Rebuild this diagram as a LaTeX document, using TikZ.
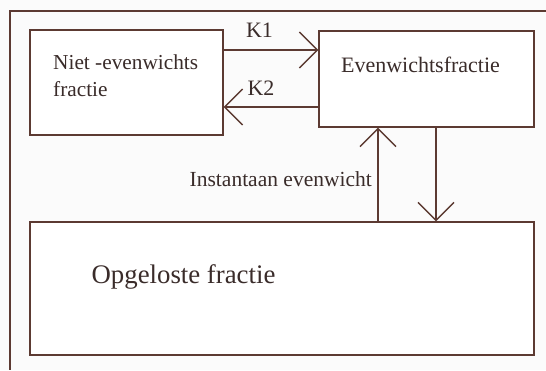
\documentclass[tikz,border=0pt]{standalone}
\usepackage{fontspec}
\setmainfont{Liberation Serif}
\usetikzlibrary{arrows.meta}
\definecolor{ink}{RGB}{92,58,50}
\definecolor{txt}{RGB}{58,44,42}
\tikzset{
  x=1pt, y=-1pt,
  frameline/.style={draw=ink, line width=1.4pt},
  fbox/.style={draw=ink, line width=1.4pt, inner sep=0pt, rectangle, fill=white},
  lbl/.style={text=txt, inner sep=0pt, font=\fontsize{21}{25}\selectfont},
  arr/.style={draw=ink, line width=1.3pt, -{Straight Barb[length=18pt, width=36pt, line width=1.3pt]}}
}
\begin{document}
\begin{tikzpicture}
  \useasboundingbox[fill=white!97!gray] (0,0) rectangle (546,370);
  % outer frame (top and left edges)
  \coordinate (fTR) at (546,11);
  \coordinate (fTL) at (10,11);
  \coordinate (fBL) at (10,370);
  \draw[frameline] (fTR) -- (fTL) -- (fBL);

  % boxes
  \node[fbox, minimum width=193pt, minimum height=105pt] (niet) at (126.5,82.5) {};
  \node[fbox, minimum width=215pt, minimum height=96pt] (even) at (426.5,79) {};
  \node[fbox, minimum width=504pt, minimum height=133pt] (opg) at (282,288.5) {};

  % box texts
  \node[lbl, anchor=west, align=left, font=\fontsize{21.3}{27}\selectfont] (nietT) at (53,76) {Niet -evenwichts\\fractie};
  \node[lbl, font=\fontsize{22}{26}\selectfont] (evenT) at (420.5,65) {Evenwichtsfractie};
  \node[lbl, font=\fontsize{26.8}{30}\selectfont] (opgT) at (183.5,277) {Opgeloste fractie};

  % exchange between the two fractions
  \coordinate (k1) at (0,50);
  \coordinate (k2) at (0,107);
  \draw[arr] (niet.east |- k1) -- (even.west |- k1);
  \draw[arr] (even.west |- k2) -- (niet.east |- k2);
  \node[lbl, font=\fontsize{22}{26}\selectfont] (K1) at (259.5,30) {K1};
  \node[lbl, font=\fontsize{22}{26}\selectfont] (K2) at (261,88) {K2};

  % instantaneous equilibrium with the dissolved fraction
  \coordinate (up) at (378,0);
  \coordinate (dn) at (436,0);
  \draw[arr] (opg.north -| up) -- (even.south -| up);
  \draw[arr] (even.south -| dn) -- (opg.north -| dn);
  \node[lbl, anchor=east, font=\fontsize{21.5}{25}\selectfont] (inst) at (372,179) {Instantaan evenwicht};
\end{tikzpicture}
\end{document}
